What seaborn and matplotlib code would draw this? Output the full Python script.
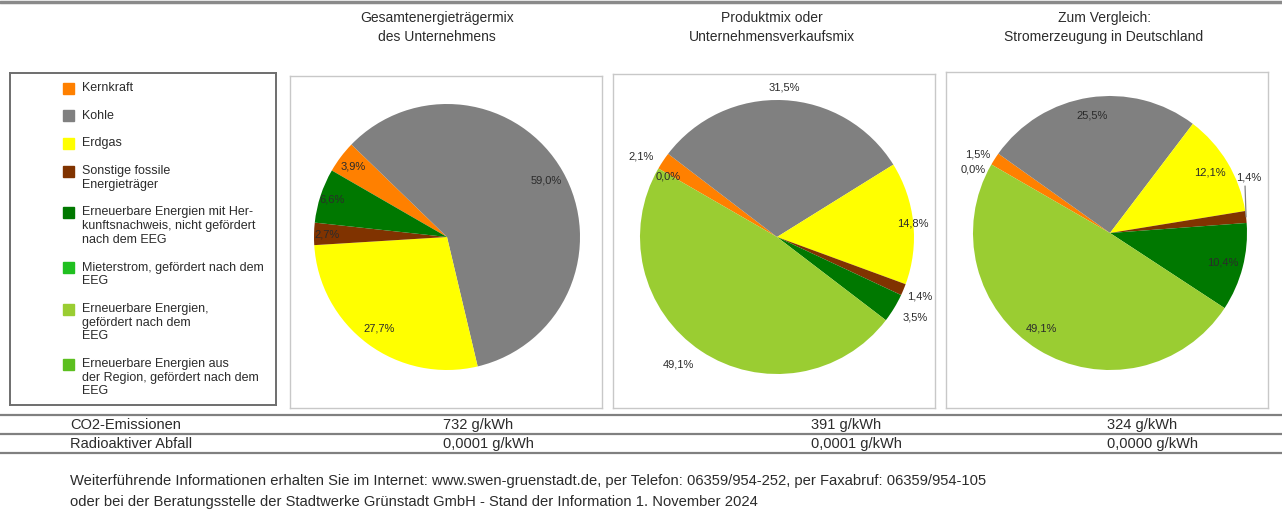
import numpy as np
import matplotlib
matplotlib.use("Agg")
import matplotlib.pyplot as plt
from matplotlib.patches import Rectangle
import seaborn as sns

# Daten
kategorien = [
    "Kernkraft",
    "Kohle",
    "Erdgas",
    "Sonstige fossile\nEnergieträger",
    "Erneuerbare Energien mit Her-\nkunftsnachweis, nicht gefördert\nnach dem EEG",
    "Mieterstrom, gefördert nach dem\nEEG",
    "Erneuerbare Energien,\ngefördert nach dem\nEEG",
    "Erneuerbare Energien aus\nder Region, gefördert nach dem\nEEG",
]
farben = ["#ff8000", "#808080", "#ffff00", "#803300", "#007800",
          "#20c020", "#9acd32", "#5cbf1f"]

titel = ["Gesamtenergieträgermix\ndes Unternehmens",
         "Produktmix oder\nUnternehmensverkaufsmix",
         "Zum Vergleich:\nStromerzeugung in Deutschland"]

# None = kein Wert / kein Label
gesamtmix = [3.9, 59.0, 27.7, 2.7, 6.6, None, None, None]
produktmix = [2.1, 31.5, 14.8, 1.4, 3.5, None, 49.1, 0.0]
deutschland = [1.5, 25.5, 12.1, 1.4, 10.4, None, 49.1, 0.0]

co2 = ["732 g/kWh", "391 g/kWh", "324 g/kWh"]
abfall = ["0,0001 g/kWh", "0,0001 g/kWh", "0,0000 g/kWh"]

fusszeile = [
    "Weiterführende Informationen erhalten Sie im Internet: www.swen-gruenstadt.de, "
    "per Telefon: 06359/954-252, per Faxabruf: 06359/954-105",
    "oder bei der Beratungsstelle der Stadtwerke Grünstadt GmbH - Stand der Information 1. November 2024",
]

# Layout (Pixel)
W, H = 1282, 520
boxen = [(290, 76, 602, 408), (613, 74, 935, 408), (946, 72, 1268, 408)]
zentren = [(447, 237), (777, 237), (1110, 233)]
radien = [133, 137, 137]
titel_x = [437, 772, 1104]
werte_x = [443, 811, 1107]
# (Abstand, Winkelversatz, Hinweislinie) je Kategorie
label_pos = [
    [(0.88, 0, False), (0.86, 0, False), (0.86, 0, False), (0.90, 0, False),
     (0.91, 0, False), None, None, None],
    [(1.15, 3, False), (1.09, 0, False), (1.00, 0, False), (1.13, 0, False),
     (1.17, 1, False), None, (1.18, -4, False), (0.91, 1, False)],
    [(1.12, 2, False), (0.87, 0, False), (0.85, 0, False), (1.09, 15, True),
     (0.85, 0, False), None, (0.86, -4, False), (1.10, 5, False)],
]

sns.set_theme(style="white")
plt.rcParams['font.family'] = ['Liberation Sans', 'DejaVu Sans']
textfarbe = "#2b2b2b"

fig = plt.figure(figsize=(W / 100, H / 100), dpi=100)
bg = fig.add_axes([0, 0, 1, 1])
bg.set_xlim(0, W)
bg.set_ylim(H, 0)
bg.axis("off")

# Linien oben und Tabelle
bg.axhline(2, color="#8a8a8a", lw=2.5)
for y in [415, 434, 453]:
    bg.axhline(y, color="#808080", lw=1.6)

# Titel
for x, t in zip(titel_x, titel):
    for k, zeile in enumerate(t.split("\n")):
        bg.text(x, 18 + k * 19, zeile, ha="center", va="center",
                fontsize=10, color=textfarbe)

# Legende
leg = fig.add_axes([10 / W, 1 - 405 / H, 266 / W, 332 / H])
leg.patch.set_facecolor("none")
leg.set_xticks([])
leg.set_yticks([])
for s in leg.spines.values():
    s.set_color("#6e6e6e")
    s.set_linewidth(1.4)
y = 88
for name, farbe in zip(kategorien, farben):
    zeilen = name.split("\n")
    bg.add_patch(Rectangle((63, y - 5.5), 11, 11, color=farbe))
    for k, zeile in enumerate(zeilen):
        bg.text(82, y + k * 13.7, zeile, ha="left", va="center",
                fontsize=9, color=textfarbe)
    y += 27.7 + 13.7 * (len(zeilen) - 1)


def torte(werte, box, zentrum, radius, positionen):
    bx0, by0, bx1, by1 = box
    cx, cy = zentrum
    ax = fig.add_axes([bx0 / W, 1 - by1 / H, (bx1 - bx0) / W, (by1 - by0) / H])
    vals = [0 if v is None else v for v in werte]
    wedges, _ = ax.pie(vals, colors=farben, startangle=150, counterclock=False,
                       wedgeprops=dict(linewidth=0))
    ax.set_xlim((bx0 - cx) / radius, (bx1 - cx) / radius)
    ax.set_ylim((cy - by1) / radius, (cy - by0) / radius)
    ax.set_aspect("auto")
    ax.set_frame_on(True)
    ax.set_xticks([])
    ax.set_yticks([])
    for s in ax.spines.values():
        s.set_color("#c8c8c8")
        s.set_linewidth(1)
    for w, v, pos in zip(wedges, werte, positionen):
        if v is None:
            continue
        dist, dth, linie = pos
        mitte = np.deg2rad((w.theta1 + w.theta2) / 2)
        winkel = mitte + np.deg2rad(dth)
        tx, ty = dist * np.cos(winkel), dist * np.sin(winkel)
        text = f"{v:.1f}%".replace(".", ",")
        if linie:
            ax.annotate(text, xy=(np.cos(mitte), np.sin(mitte)), xytext=(tx, ty),
                        ha="center", va="center", fontsize=8, color=textfarbe,
                        arrowprops=dict(arrowstyle="-", color="#808080", lw=0.9,
                                        relpos=(0.35, 0), shrinkA=0, shrinkB=0))
        else:
            ax.text(tx, ty, text, ha="center", va="center", fontsize=8,
                    color=textfarbe, clip_on=False)


for werte, box, z, r, p in zip([gesamtmix, produktmix, deutschland],
                               boxen, zentren, radien, label_pos):
    torte(werte, box, z, r, p)

# Tabelle
bg.text(70, 425, "CO2-Emissionen", ha="left", va="center", fontsize=10.5, color=textfarbe)
bg.text(70, 444, "Radioaktiver Abfall", ha="left", va="center", fontsize=10.5, color=textfarbe)
for x, c, a in zip(werte_x, co2, abfall):
    bg.text(x, 425, c, ha="left", va="center", fontsize=10.5, color=textfarbe)
    bg.text(x, 444, a, ha="left", va="center", fontsize=10.5, color=textfarbe)

# Fusszeile
for k, zeile in enumerate(fusszeile):
    bg.text(70, 481 + k * 21, zeile, ha="left", va="center", fontsize=10.6, color=textfarbe)

fig.savefig("out.png", dpi=100)
